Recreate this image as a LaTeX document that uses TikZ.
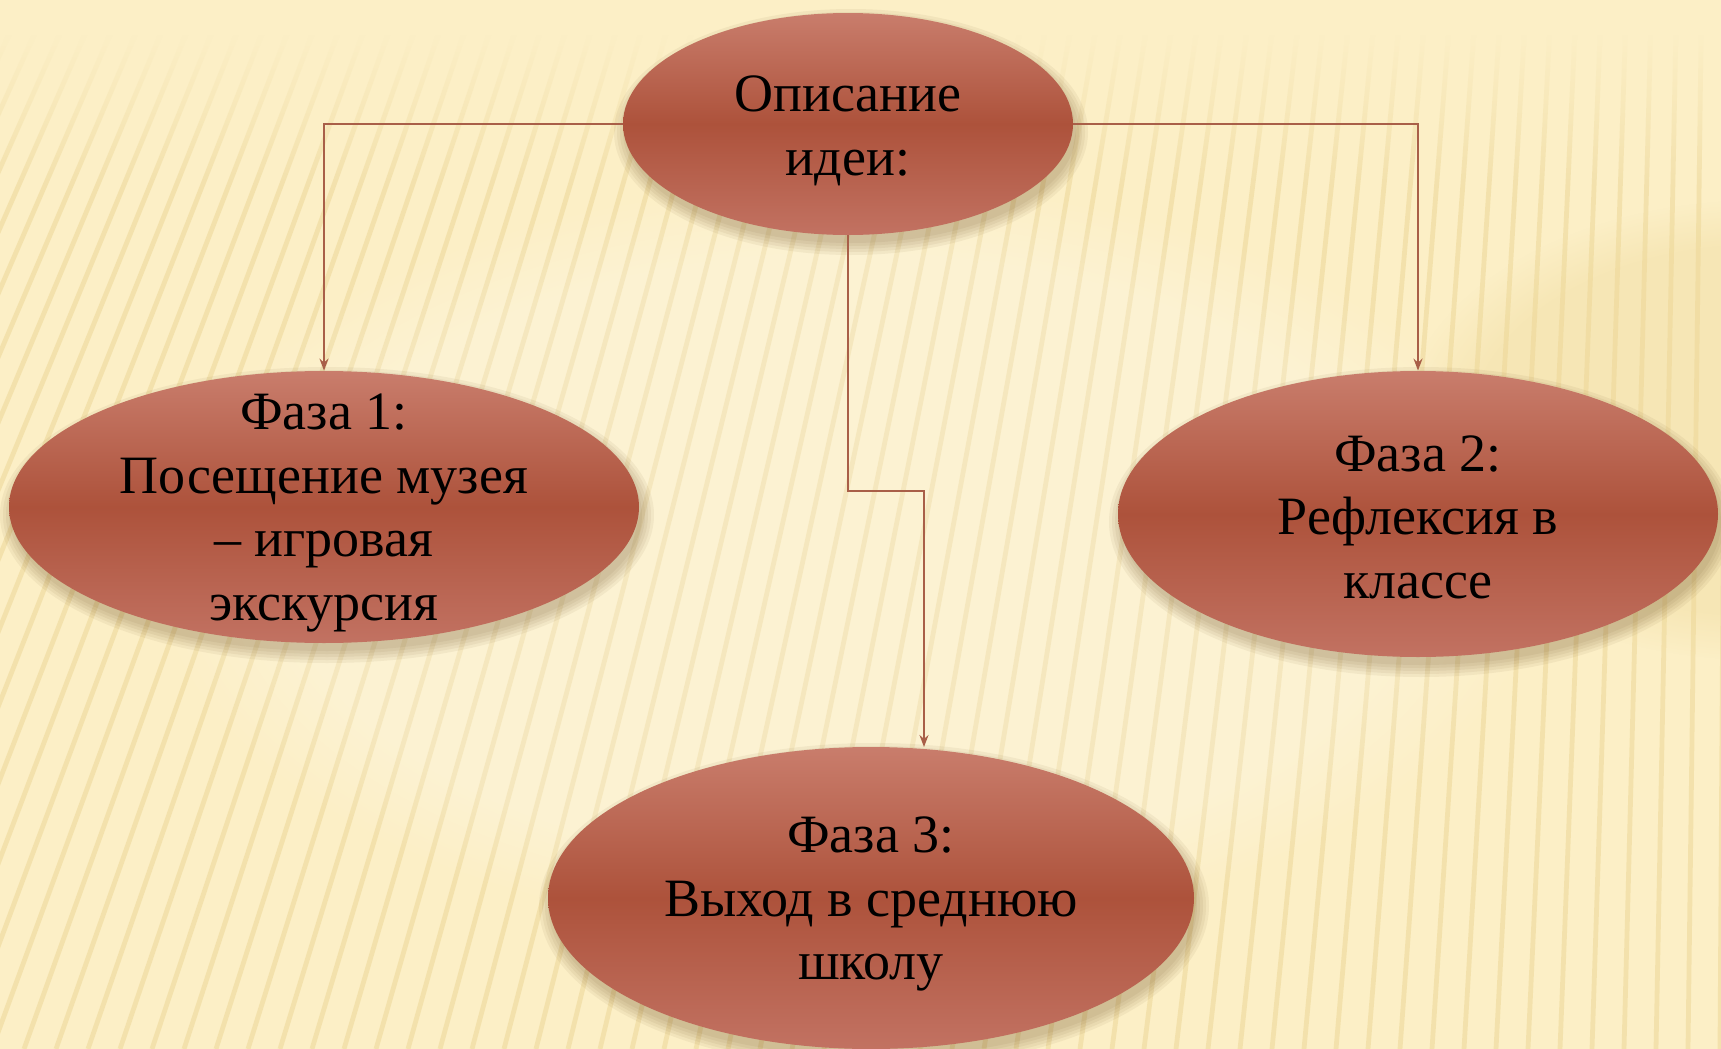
\documentclass[tikz,border=0pt]{standalone}
\usepackage{fontspec}
\setmainfont{Liberation Serif}
\usetikzlibrary{shapes.geometric,arrows.meta,fadings}
\definecolor{bgc}{HTML}{FCEFC6}
\definecolor{stripec}{HTML}{EDD797}
\definecolor{linec}{HTML}{A95F48}
\definecolor{elltop}{HTML}{C97D6C}
\definecolor{ellmid}{HTML}{AD523B}
\definecolor{ellbot}{HTML}{C27262}
\definecolor{shadc}{HTML}{5A3A10}
\tikzset{
  bubble/.style={ellipse, inner sep=0pt,
    top color=elltop, bottom color=ellbot, middle color=ellmid},
  txt/.style={align=center, inner sep=0pt,
    font=\fontsize{27}{31.8}\selectfont, text=black},
  conn/.style={draw=linec, line width=1pt, -{Stealth[length=6pt,width=4.5pt,inset=2pt]}},
  stripe/.style={draw=stripec, line width=2.4pt, opacity=0.55},
  shadowlayer/.style={fill=shadc, opacity=0.06}
}
\begin{document}
\begin{tikzpicture}[x=0.5pt,y=-0.5pt]
\useasboundingbox (0,0) rectangle (1721,1049);
\fill[bgc] (0,0) rectangle (1721,1049);
\begin{scope}
  \clip (0,30) rectangle (1721,1049);
  \fill[stripec, opacity=0.35, path fading=circle with fuzzy edge 20 percent] (1760,430) ellipse (360 and 230);
  \foreach \x in {-1000,-968,...,1760} {
    \draw[stripe] (1750,-3763) -- (\x,1049);
  }
\end{scope}
\fill[bgc] (0,0) rectangle (1721,35);
\fill[bgc, path fading=south] (0,34) rectangle (1721,190);
\fill[white, opacity=0.22, path fading=circle with fuzzy edge 20 percent] (848,560) ellipse (700 and 380);

% shadows
\foreach \cx/\cy/\rx/\ry in {848/124/225/111, 324/507/315/136, 1418/514/300/143, 871/898/323/151} {
  \foreach \s in {0,3,6,9,12} {
    \pgfmathsetmacro{\ra}{\rx+\s}
    \pgfmathsetmacro{\rb}{\ry+\s}
    \fill[shadowlayer] ({\cx+3},{\cy+8}) ellipse ({\ra} and {\rb});
  }
}

\node[bubble, minimum width=225pt, minimum height=111pt] (top) at (848,124) {};
\node[bubble, minimum width=315pt, minimum height=136pt] (left) at (324,507) {};
\node[bubble, minimum width=300pt, minimum height=143pt] (right) at (1418,514) {};
\node[bubble, minimum width=323pt, minimum height=151pt] (bot) at (871,898) {};

\node[txt] (toptext) at (848,131) {Описание\\идеи:};
\node[txt] (lefttext) at (324,513) {Фаза 1:\\Посещение музея\\– игровая\\экскурсия};
\node[txt] (righttext) at (1418,517) {Фаза 2:\\Рефлексия в\\классе};
\node[txt] (bottext) at (871,904) {Фаза 3:\\Выход в среднюю\\школу};

\coordinate (bend) at (924,491);
\coordinate (botin) at (924,747);
\draw[conn] (top.west) -| (left.north);
\draw[conn] (top.east) -| (right.north);
\draw[conn] (top.south) |- (bend) -- (botin);
\end{tikzpicture}
\end{document}
